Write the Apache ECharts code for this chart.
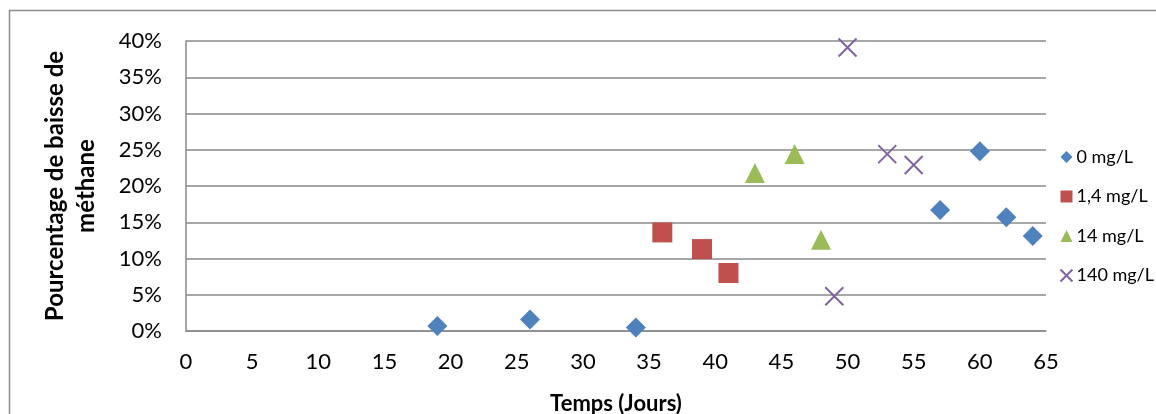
<!DOCTYPE html>
<html><head><meta charset="utf-8">
<script src="https://cdn.jsdelivr.net/npm/echarts@6/dist/echarts.min.js"></script>
<style>html,body{margin:0;padding:0;background:#fff}#c{width:1156px;height:414px}</style>
</head><body><div id="c"></div>
<script>
const seriesNames = ['0 mg/L', '1,4 mg/L', '14 mg/L', '140 mg/L'];
const days0 = [19, 26, 34, 57, 60, 62, 64];
const vals0 = [0.7, 1.6, 0.5, 16.7, 24.8, 15.7, 13.1];
const days14a = [36, 39, 41];
const vals14a = [13.6, 11.3, 8.0];
const days14 = [43, 46, 48];
const vals14 = [21.8, 24.4, 12.6];
const days140 = [49, 50, 53, 55];
const vals140 = [4.8, 39.1, 24.4, 22.9];
const xTicks = [0,5,10,15,20,25,30,35,40,45,50,55,60,65];
const yTicks = ['0%','5%','10%','15%','20%','25%','30%','35%','40%'];

const pair = (xs, ys) => xs.map((x, i) => [x, ys[i]]);
const colors = ['#4F81BD', '#C0504D', '#9BBB59', '#8064A2'];
const xPath = 'path://M0,0L10,10M10,0L0,10';

const chart = echarts.init(document.getElementById('c'));
chart.setOption({
  animation: false,
  color: colors,
  textStyle: {fontFamily: 'Lato'},
  graphic: [{
    type: 'rect', z: -1,
    shape: {x: 9.5, y: 10.5, width: 1300, height: 600},
    style: {fill: 'none', stroke: '#8c8c8c', lineWidth: 1.5}
  }],
  grid: {left: 186, right: 110, top: 41, bottom: 83, outerBoundsMode: 'none', containLabel: false},
  legend: {
    orient: 'vertical', left: 1058, top: 148, padding: 0,
    itemWidth: 12, itemHeight: 12, itemGap: 21.5,
    textStyle: {fontSize: 18, color: '#000', fontFamily: 'Lato', padding: [0,0,0,-1], overflow: 'none'},
    data: [
      {name: seriesNames[0], icon: 'diamond'},
      {name: seriesNames[1], icon: 'rect'},
      {name: seriesNames[2], icon: 'triangle'},
      {name: seriesNames[3], icon: xPath}
    ]
  },
  xAxis: {
    type: 'value', min: 0, max: 65, interval: 5,
    name: 'Temps (Jours)', nameLocation: 'middle', nameGap: 62,
    nameTextStyle: {fontSize: 22, fontWeight: 'bold', color: '#000', fontFamily: 'Lato'},
    axisLine: {show: true, lineStyle: {color: '#8a8a8a', width: 1.5}},
    axisTick: {show: false},
    splitLine: {show: false},
    axisLabel: {fontSize: 22, color: '#000', margin: 20,
      formatter: v => String(xTicks[xTicks.indexOf(v)])}
  },
  yAxis: {
    type: 'value', min: 0, max: 40, interval: 5,
    name: 'Pourcentage de baisse de\nméthane', nameLocation: 'middle', nameGap: 84,
    nameTextStyle: {fontSize: 24, fontWeight: 'bold', color: '#000', fontFamily: 'Lato', lineHeight: 31},
    axisLine: {show: true, lineStyle: {color: '#8a8a8a', width: 1.5}},
    axisTick: {show: false},
    splitLine: {show: true, lineStyle: {color: '#8a8a8a', width: 1.5}},
    axisLabel: {fontSize: 22, color: '#000', margin: 24,
      formatter: v => yTicks[Math.round(v / 5)]}
  },
  series: [
    {name: seriesNames[0], type: 'scatter', symbol: 'diamond', symbolSize: 20,
     itemStyle: {color: colors[0], opacity: 1}, data: pair(days0, vals0)},
    {name: seriesNames[1], type: 'scatter', symbol: 'rect', symbolSize: 20,
     itemStyle: {color: colors[1], opacity: 1}, data: pair(days14a, vals14a)},
    {name: seriesNames[2], type: 'scatter', symbol: 'triangle', symbolSize: 20,
     itemStyle: {color: colors[2], opacity: 1}, data: pair(days14, vals14)},
    {name: seriesNames[3], type: 'scatter', symbol: xPath, symbolSize: 18,
     itemStyle: {color: 'none', borderColor: colors[3], borderWidth: 2, opacity: 1},
     data: pair(days140, vals140)}
  ]
});
</script></body></html>
